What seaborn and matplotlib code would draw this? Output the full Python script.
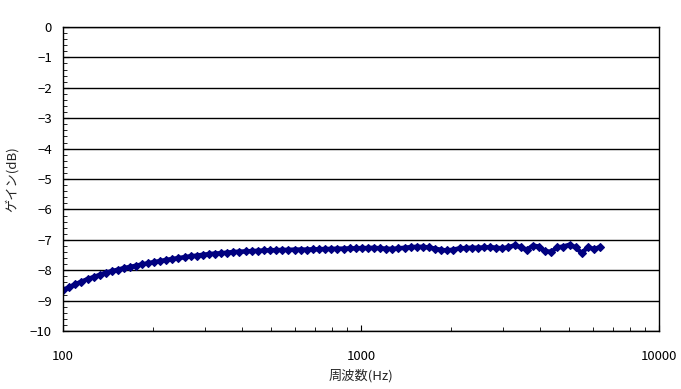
import matplotlib
matplotlib.use("Agg")
import matplotlib.pyplot as plt
from matplotlib.ticker import FixedLocator, NullFormatter, MultipleLocator
import pandas as pd
import seaborn as sns

# 周波数 (Hz)
freq = [100, 105, 110, 115, 121, 127, 133, 139, 146, 153, 160, 168, 176, 184, 193,
        202, 212, 222, 233, 244, 256, 268, 281, 295, 309, 324, 340, 356, 373, 391,
        410, 430, 451, 473, 496, 520, 545, 571, 599, 628, 658, 690, 723, 758, 795,
        833, 874, 916, 960, 1007, 1055, 1106, 1160, 1216, 1275, 1336, 1401, 1469,
        1540, 1614, 1692, 1774, 1860, 1950, 2044, 2143, 2247, 2355, 2469, 2589,
        2714, 2845, 2983, 3127, 3278, 3437, 3603, 3778, 3960, 4152, 4353, 4563,
        4784, 5016, 5258, 5513, 5779, 6059, 6352]

# ゲイン (dB)
gain = [-8.65, -8.56, -8.46, -8.38, -8.29, -8.22, -8.15, -8.08, -8.03, -7.98,
        -7.93, -7.89, -7.85, -7.81, -7.77, -7.73, -7.70, -7.66, -7.63, -7.60,
        -7.57, -7.54, -7.52, -7.49, -7.47, -7.45, -7.44, -7.42, -7.40, -7.39,
        -7.38, -7.37, -7.36, -7.35, -7.34, -7.34, -7.33, -7.33, -7.32, -7.32,
        -7.32, -7.31, -7.31, -7.30, -7.30, -7.29, -7.29, -7.28, -7.28, -7.27,
        -7.27, -7.26, -7.28, -7.29, -7.30, -7.28, -7.26, -7.24, -7.23, -7.23,
        -7.25, -7.29, -7.33, -7.35, -7.32, -7.28, -7.27, -7.26, -7.26, -7.25,
        -7.24, -7.26, -7.28, -7.24, -7.18, -7.24, -7.33, -7.19, -7.22, -7.38,
        -7.39, -7.25, -7.22, -7.16, -7.25, -7.44, -7.23, -7.31, -7.23]

x_ticks = [100, 1000, 10000]
x_ticklabels = ["100", "1000", "10000"]
y_ticks = [0, -1, -2, -3, -4, -5, -6, -7, -8, -9, -10]

df = pd.DataFrame({"freq": freq, "gain": gain})

sns.set_style("white")
plt.rcParams['font.family'] = ['Noto Sans CJK JP', 'DejaVu Sans']

fig = plt.figure(figsize=(6.81, 3.89), dpi=100)
ax = fig.add_axes([0.0925, 0.149, 0.875, 0.7816])

sns.lineplot(data=df, x="freq", y="gain", ax=ax, color="#000080",
             marker="D", markersize=4.2, markeredgecolor="#000080",
             markeredgewidth=0.8, linewidth=3.2)

ax.set_xscale("log")
ax.set_xlim(100, 10000)
ax.set_ylim(-10, 0)

ax.xaxis.set_major_locator(FixedLocator(x_ticks))
ax.set_xticklabels(x_ticklabels)
minor_x = [m * d for d in (100, 1000) for m in range(2, 10)]
ax.xaxis.set_minor_locator(FixedLocator(minor_x))
ax.xaxis.set_minor_formatter(NullFormatter())
ax.set_yticks(y_ticks)
ax.yaxis.set_minor_locator(MultipleLocator(0.2))

ax.grid(axis="y", color="black", linewidth=1)
ax.grid(axis="x", visible=False)
ax.set_axisbelow(True)

for s in ax.spines.values():
    s.set_color("black")
    s.set_linewidth(1)

ax.tick_params(axis="both", which="major", direction="in", length=4,
               color="black", labelsize=9.5, labelcolor="black")
ax.tick_params(axis="both", which="minor", direction="in", length=3,
               color="black")
ax.tick_params(axis="x", which="both", bottom=True, top=False)
ax.tick_params(axis="y", which="both", left=True, right=False)
ax.tick_params(axis="x", which="major", pad=14)
ax.tick_params(axis="y", which="major", pad=8)

ax.set_xlabel("周波数(Hz)", fontsize=9.5, labelpad=4)
ax.set_ylabel("ゲイン(dB)", fontsize=9.5, labelpad=8)

fig.savefig("out.png", dpi=100)
